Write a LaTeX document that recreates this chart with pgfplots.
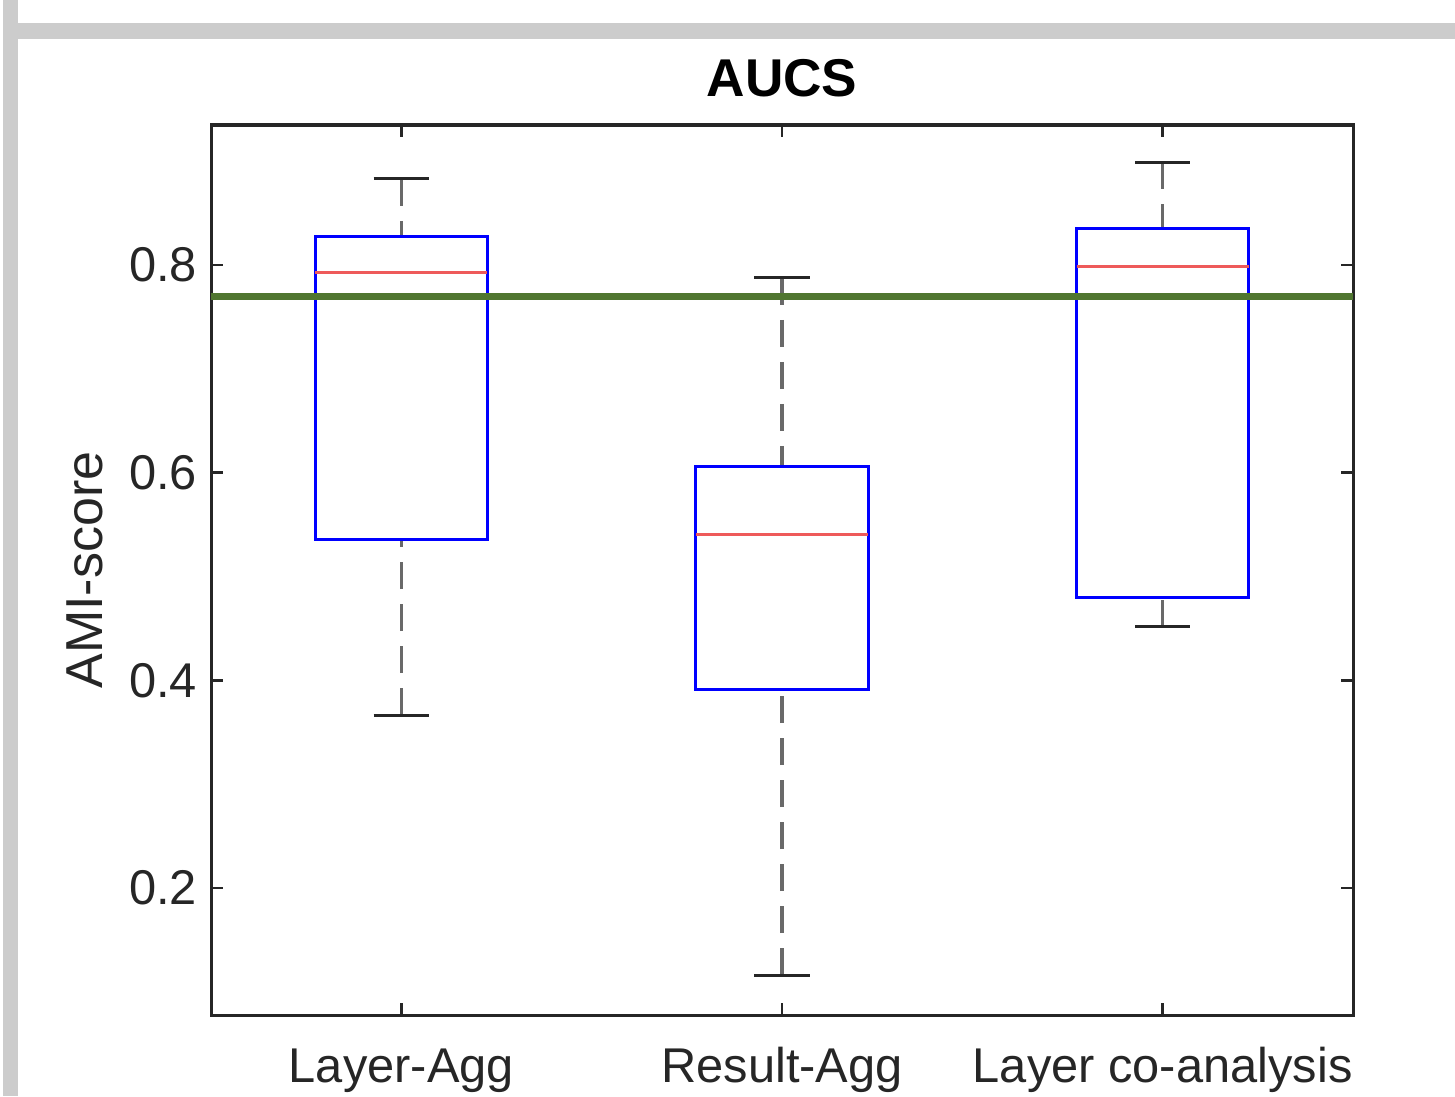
\documentclass[border=0pt]{standalone}
\usepackage{pgfplots}
\pgfplotsset{compat=1.18}
\usepackage{fontspec}
\setmainfont{Liberation Sans}
\definecolor{mgreen}{RGB}{80,118,48}
\definecolor{mred}{RGB}{238,90,90}
\definecolor{axgray}{RGB}{38,38,38}
\definecolor{framegray}{RGB}{204,204,204}
\definecolor{wgray}{RGB}{105,105,105}
\begin{document}
\begin{tikzpicture}[x=1pt,y=1pt]
\useasboundingbox (0,0) rectangle (363.75,274);
\fill[framegray] (0.75,0) rectangle (4.5,274);
\fill[framegray] (4.5,264.25) rectangle (363.75,268.25);
\begin{axis}[
  at={(52.75pt,20.25pt)}, anchor=south west,
  scale only axis, width=285.5pt, height=222.5pt,
  xmin=0.5, xmax=3.5, ymin=0.0777, ymax=0.9348,
  xtick={1,2,3}, xticklabels={Layer-Agg,Result-Agg,Layer co-analysis},
  ytick={0.2,0.4,0.6,0.8},
  tick align=inside, major tick length=3pt,
  tick style={axgray, line width=0.6pt},
  axis line style={axgray, line width=0.75pt},
  every tick label/.append style={font=\fontsize{12.2}{14}\selectfont, text=axgray},
  /pgf/number format/assume math mode=true,
  yticklabel style={/pgf/number format/fixed, /pgf/number format/precision=1},
  xticklabel style={anchor=base, yshift=-16.75pt},
  title={AUCS},
  title style={at={(0.5,1)}, anchor=base, yshift=1pt, font=\bfseries\fontsize{13.3}{15}\selectfont},
  ylabel={AMI-score},
  ylabel style={at={(axis description cs:-0.0946,0.5)}, anchor=base, font=\fontsize{13}{15}\selectfont, text=axgray},
  clip=false,
]
% whiskers (dashed), drawn from whisker end toward box
\addplot[wgray, line width=0.8pt, dash pattern=on 6.75pt off 3.75pt] coordinates {(1,0.8828) (1,0.8279)};
\addplot[wgray, line width=0.8pt, dash pattern=on 6.75pt off 3.75pt] coordinates {(1,0.3666) (1,0.5361)};
\addplot[wgray, line width=0.8pt, dash pattern=on 6.75pt off 3.75pt] coordinates {(2,0.7875) (2,0.6055)};
\addplot[wgray, line width=0.8pt, dash pattern=on 6.75pt off 3.75pt] coordinates {(2,0.1162) (2,0.3907)};
\addplot[wgray, line width=0.8pt, dash pattern=on 6.75pt off 3.75pt] coordinates {(3,0.8990) (3,0.8347)};
\addplot[wgray, line width=0.8pt, dash pattern=on 6.75pt off 3.75pt] coordinates {(3,0.4514) (3,0.4802)};
% caps
\addplot[black!85, line width=0.75pt] coordinates {(0.9275,0.8828) (1.0725,0.8828)};
\addplot[black!85, line width=0.75pt] coordinates {(0.9275,0.3666) (1.0725,0.3666)};
\addplot[black!85, line width=0.75pt] coordinates {(1.9275,0.7875) (2.0725,0.7875)};
\addplot[black!85, line width=0.75pt] coordinates {(1.9275,0.1162) (2.0725,0.1162)};
\addplot[black!85, line width=0.75pt] coordinates {(2.9275,0.8990) (3.0725,0.8990)};
\addplot[black!85, line width=0.75pt] coordinates {(2.9275,0.4514) (3.0725,0.4514)};
% boxes
\addplot[blue, line width=0.75pt] coordinates {(0.774,0.5361) (1.226,0.5361) (1.226,0.8279) (0.774,0.8279) (0.774,0.5361)} -- cycle;
\addplot[blue, line width=0.75pt] coordinates {(1.774,0.3907) (2.226,0.3907) (2.226,0.6055) (1.774,0.6055) (1.774,0.3907)} -- cycle;
\addplot[blue, line width=0.75pt] coordinates {(2.774,0.4802) (3.226,0.4802) (3.226,0.8347) (2.774,0.8347) (2.774,0.4802)} -- cycle;
% medians
\addplot[mred, line width=0.75pt] coordinates {(0.774,0.7923) (1.226,0.7923)};
\addplot[mred, line width=0.75pt] coordinates {(1.774,0.5400) (2.226,0.5400)};
\addplot[mred, line width=0.75pt] coordinates {(2.774,0.7981) (3.226,0.7981)};
% reference line
\addplot[mgreen, line width=1.75pt] coordinates {(0.5,0.7701) (3.5,0.7701)};
\end{axis}
\end{tikzpicture}
\end{document}
